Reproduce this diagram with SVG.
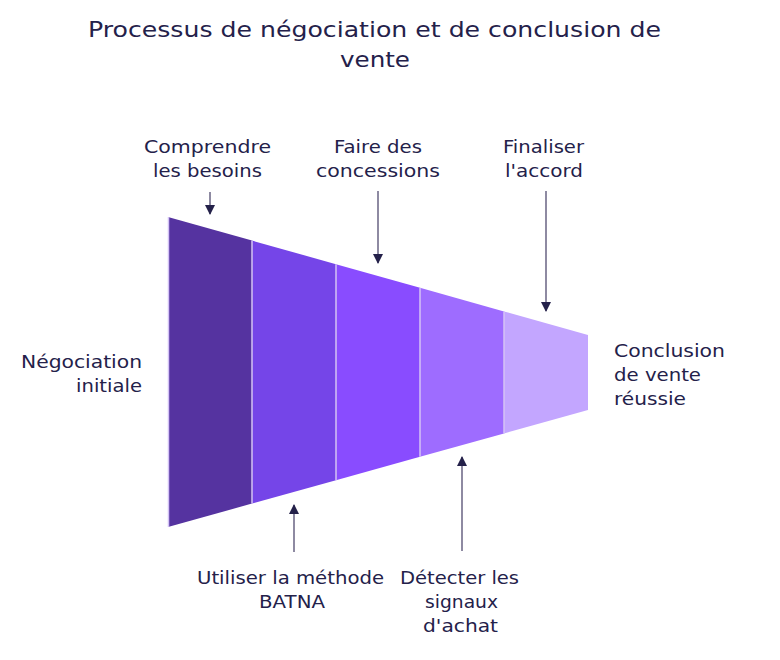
<svg xmlns="http://www.w3.org/2000/svg" width="780" height="660" viewBox="0 0 780 660">
<style>
text{font-family:"DejaVu Sans","Noto Sans","Liberation Sans",sans-serif;fill:#24214a}
.t{font-size:21.5px}
.l{font-size:18.5px}
.div{stroke:#d4c3f5;stroke-width:1.5}
.ar{stroke:#8e8aa2;stroke-width:2;fill:none}
</style>
<defs>
<marker id="ah" viewBox="0 0 10 10" refX="9" refY="5" markerWidth="5" markerHeight="5" orient="auto" markerUnits="strokeWidth">
<path d="M0,0 L10,5 L0,10 z" fill="#24214a"/>
</marker>
</defs>
<g id="title">
<text class="t" x="374.5" y="37" text-anchor="middle" textLength="573" lengthAdjust="spacingAndGlyphs">Processus de négociation et de conclusion de</text>
<text class="t" x="375" y="67" text-anchor="middle" textLength="70" lengthAdjust="spacingAndGlyphs">vente</text>
</g>
<g id="funnel">
<g id="seg1"><polygon points="168,217 252,240.6 252,503.6 168,527" fill="#5533a0"/></g>
<g id="seg2"><polygon points="252,240.6 336,264.2 336,480.2 252,503.6" fill="#7545e8"/></g>
<g id="seg3"><polygon points="336,264.2 420,287.8 420,456.8 336,480.2" fill="#894cff"/></g>
<g id="seg4"><polygon points="420,287.8 504,311.4 504,433.4 420,456.8" fill="#9e6cff"/></g>
<g id="seg5"><polygon points="504,311.4 588,335 588,410 504,433.4" fill="#c3a6ff"/></g>
<line class="div" x1="168.5" y1="217" x2="168.5" y2="527" stroke-width="1"/>
<line class="div" x1="252" y1="240.6" x2="252" y2="503.6"/>
<line class="div" x1="336" y1="264.2" x2="336" y2="480.2"/>
<line class="div" x1="420" y1="287.8" x2="420" y2="456.8"/>
<line class="div" x1="504" y1="311.4" x2="504" y2="433.4"/>
</g>
<g id="connectors">
<line class="ar" x1="210" y1="192" x2="210" y2="214" marker-end="url(#ah)"/>
<line class="ar" x1="378" y1="191" x2="378" y2="263" marker-end="url(#ah)"/>
<line class="ar" x1="546" y1="191" x2="546" y2="311" marker-end="url(#ah)"/>
<line class="ar" x1="294" y1="552" x2="294" y2="505" marker-end="url(#ah)"/>
<line class="ar" x1="462" y1="551" x2="462" y2="457" marker-end="url(#ah)"/>
</g>
<g id="n-comprendre">
<text class="l" x="207.5" y="153" text-anchor="middle" textLength="127" lengthAdjust="spacingAndGlyphs">Comprendre</text>
<text class="l" x="207.5" y="177" text-anchor="middle" textLength="109" lengthAdjust="spacingAndGlyphs">les besoins</text>
</g>
<g id="n-concessions">
<text class="l" x="378" y="153" text-anchor="middle" textLength="88" lengthAdjust="spacingAndGlyphs">Faire des</text>
<text class="l" x="378" y="177" text-anchor="middle" textLength="124" lengthAdjust="spacingAndGlyphs">concessions</text>
</g>
<g id="n-finaliser">
<text class="l" x="543.5" y="153" text-anchor="middle" textLength="81" lengthAdjust="spacingAndGlyphs">Finaliser</text>
<text class="l" x="544" y="177" text-anchor="middle" textLength="78" lengthAdjust="spacingAndGlyphs">l'accord</text>
</g>
<g id="n-negociation">
<text class="l" x="142" y="368" text-anchor="end" textLength="121" lengthAdjust="spacingAndGlyphs">Négociation</text>
<text class="l" x="142" y="392" text-anchor="end" textLength="66" lengthAdjust="spacingAndGlyphs">initiale</text>
</g>
<g id="n-conclusion">
<text class="l" x="614" y="357" text-anchor="start" textLength="111" lengthAdjust="spacingAndGlyphs">Conclusion</text>
<text class="l" x="614" y="381" text-anchor="start" textLength="87" lengthAdjust="spacingAndGlyphs">de vente</text>
<text class="l" x="614" y="405" text-anchor="start" textLength="72" lengthAdjust="spacingAndGlyphs">réussie</text>
</g>
<g id="n-batna">
<text class="l" x="290.5" y="584" text-anchor="middle" textLength="187" lengthAdjust="spacingAndGlyphs">Utiliser la méthode</text>
<text class="l" x="292" y="608" text-anchor="middle" textLength="66" lengthAdjust="spacingAndGlyphs">BATNA</text>
</g>
<g id="n-detecter">
<text class="l" x="459.5" y="584" text-anchor="middle" textLength="119" lengthAdjust="spacingAndGlyphs">Détecter les</text>
<text class="l" x="461.5" y="608" text-anchor="middle" textLength="73" lengthAdjust="spacingAndGlyphs">signaux</text>
<text class="l" x="460.5" y="632" text-anchor="middle" textLength="75" lengthAdjust="spacingAndGlyphs">d'achat</text>
</g>
</svg>
